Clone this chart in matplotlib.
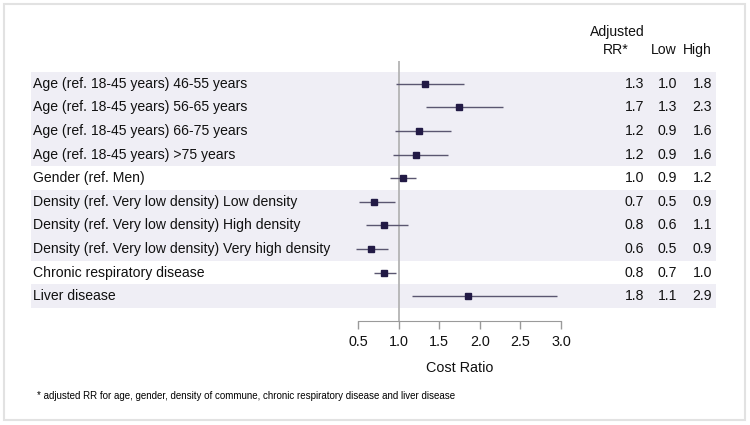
import matplotlib
matplotlib.use('Agg')
import matplotlib.pyplot as plt
from matplotlib.patches import Rectangle
from matplotlib.transforms import blended_transform_factory

# Data
labels = [
    'Age (ref. 18-45 years) 46-55 years',
    'Age (ref. 18-45 years) 56-65 years',
    'Age (ref. 18-45 years) 66-75 years',
    'Age (ref. 18-45 years) >75 years',
    'Gender (ref. Men)',
    'Density (ref. Very low density) Low density',
    'Density (ref. Very low density) High density',
    'Density (ref. Very low density) Very high density',
    'Chronic respiratory disease',
    'Liver disease',
]
rr = [1.32, 1.74, 1.25, 1.22, 1.05, 0.70, 0.82, 0.66, 0.82, 1.85]
ci_low = [0.97, 1.34, 0.95, 0.93, 0.89, 0.51, 0.60, 0.48, 0.70, 1.16]
ci_high = [1.80, 2.29, 1.64, 1.61, 1.21, 0.95, 1.12, 0.87, 0.97, 2.95]
rr_txt = ['1.3', '1.7', '1.2', '1.2', '1.0', '0.7', '0.8', '0.6', '0.8', '1.8']
low_txt = ['1.0', '1.3', '0.9', '0.9', '0.9', '0.5', '0.6', '0.5', '0.7', '1.1']
high_txt = ['1.8', '2.3', '1.6', '1.6', '1.2', '0.9', '1.1', '0.9', '1.0', '2.9']
shaded_groups = [(0, 3), (5, 7), (9, 9)]
xticks = [0.5, 1.0, 1.5, 2.0, 2.5, 3.0]

W, H = 750, 425
fig = plt.figure(figsize=(W / 100, H / 100), dpi=100)
fig.patch.set_facecolor('white')
plt.rcParams['font.family'] = ['Liberation Sans', 'DejaVu Sans']


def fx(px):
    return px / W


def fy(py):
    return 1 - py / H


# outer frame
fig.patches.append(Rectangle((fx(4), fy(420)), fx(741), (416) / H,
                             transform=fig.transFigure, fill=False,
                             edgecolor='#e2e2e2', lw=1.5))

# main panel: x in data units (0.5 -> 358px, 3.0 -> 561px), y in rows
ppu = (561 - 358) / 2.5
left_px, right_px = 31, 716
top_px, bot_px = 61, 321
row_h = 23.6
row0 = 83.8
ax = fig.add_axes([fx(left_px), fy(bot_px), (right_px - left_px) / W, (bot_px - top_px) / H])
ax.set_xlim(0.5 - (358 - left_px) / ppu, 3.0 + (right_px - 561) / ppu)
ax.set_ylim((bot_px - row0) / row_h, (top_px - row0) / row_h)
ax.axis('off')

for a, b in shaded_groups:
    ax.axhspan(a - 0.5, b + 0.5, color='#efeef5', lw=0, zorder=0)

ax.axvline(1.0, color='#b4b4b4', lw=1.3, zorder=1)

ys = list(range(len(labels)))
ax.hlines(ys, ci_low, ci_high, color='#5a5670', lw=1.0, zorder=2)
ax.plot(rr, ys, 's', color='#221a45', ms=4.6, zorder=3)

FS = 10.1
tr = blended_transform_factory(fig.transFigure, ax.transData)
txt_kw = dict(fontsize=FS, color='#111111', va='center', transform=tr)
for i, lab in enumerate(labels):
    ax.text(fx(33), i, lab, ha='left', **txt_kw)
    ax.text(fx(644), i, rr_txt[i], ha='right', **txt_kw)
    ax.text(fx(677), i, low_txt[i], ha='right', **txt_kw)
    ax.text(fx(712), i, high_txt[i], ha='right', **txt_kw)

# column headers
hdr_kw = dict(fontsize=FS, color='#111111', va='center')
fig.text(fx(617), fy(32), 'Adjusted', ha='center', **hdr_kw)
fig.text(fx(616), fy(50), 'RR*', ha='center', **hdr_kw)
fig.text(fx(677), fy(50), 'Low', ha='right', **hdr_kw)
fig.text(fx(712), fy(50), 'High', ha='right', **hdr_kw)

# x axis
axx = fig.add_axes([fx(358), fy(320.7), (561 - 358) / W, 0.0001])
axx.set_xlim(0.5, 3.0)
axx.set_xticks(xticks)
axx.set_xticklabels([f'{t:.1f}' for t in xticks])
axx.set_yticks([])
for s in ['left', 'right', 'top']:
    axx.spines[s].set_visible(False)
axx.spines['bottom'].set_color('#9a9a9a')
axx.tick_params(axis='x', colors='#9a9a9a', length=6, width=1, labelsize=FS + 0.3,
                labelcolor='#111111', pad=4)
axx.set_facecolor('none')
fig.text(fx(460), fy(367.5), 'Cost Ratio', ha='center', va='center',
         fontsize=FS + 0.3, color='#111111')

fig.text(fx(37), fy(396),
         '* adjusted RR for age, gender, density of commune, chronic respiratory disease and liver disease',
         ha='left', va='center', fontsize=7.0, color='#000000')

fig.savefig('out.png', dpi=100, facecolor='white')
